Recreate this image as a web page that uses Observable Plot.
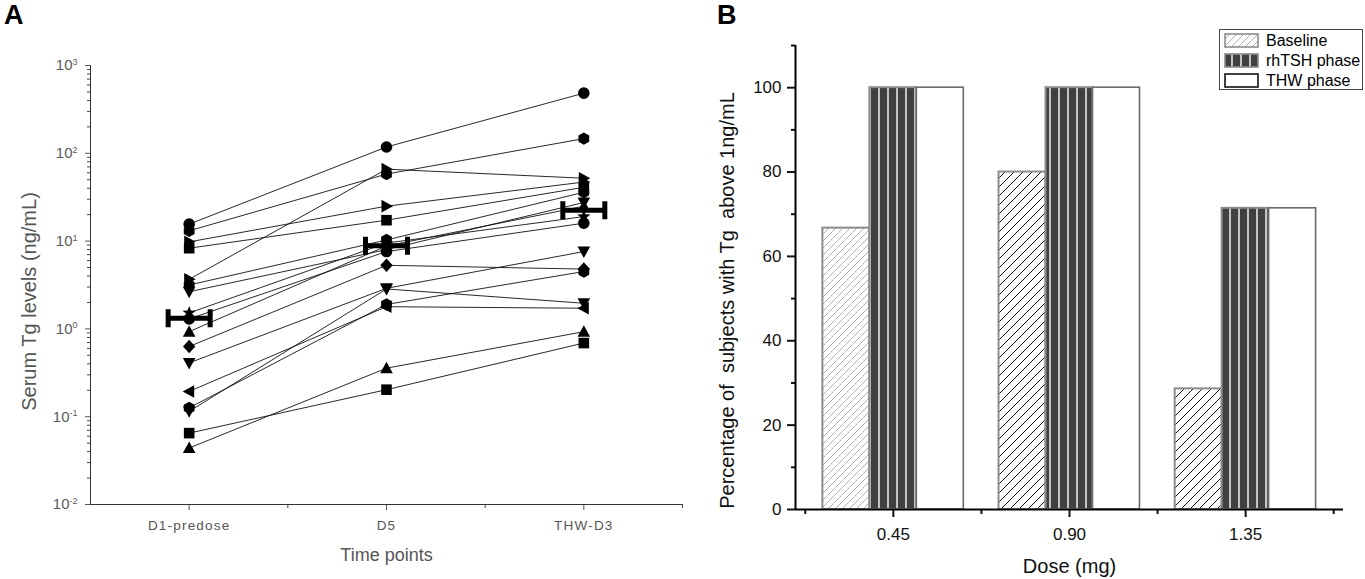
<!DOCTYPE html>
<html>
<head>
<meta charset="utf-8">
<script src="https://cdn.jsdelivr.net/npm/d3@7"></script>
<script src="https://cdn.jsdelivr.net/npm/@observablehq/plot@0.6"></script>
<style>
  body { margin: 0; background: #fff; }
  #wrap { position: relative; width: 1365px; height: 579px; overflow: hidden; background: #fff;
          font-family: "Liberation Sans", Arial, sans-serif; }
  #panelA, #panelB { position: absolute; top: 0; }
  #panelA { left: 0; }
  #panelB { left: 700px; }
  .plabel { position: absolute; top: 0px; font-weight: bold; font-size: 27px; color: #000; line-height: 30px; }
  #legend { position: absolute; left: 1219px; top: 29px; width: 142px; height: 59px; border: 1px solid #444; background: #fff; }
  .lrow { position: absolute; left: 4px; height: 16px; }
  .lrow svg { position: absolute; left: 0; top: 0; }
  .lrow span { position: absolute; left: 42px; top: -2px; font-size: 16px; line-height: 20px; color: #000; white-space: nowrap; }
  svg text { white-space: pre; }
  #panelA g[aria-label="x-axis tick label"] { letter-spacing: 1.2px; }
</style>
</head>
<body>
<div id="wrap">
  <div id="panelA"></div>
  <div id="panelB"></div>
  <div class="plabel" style="left:4px">A</div>
  <div class="plabel" style="left:717px">B</div>
  <div id="legend"></div>
</div>
<script>
// ---------- Panel A data ----------
const timePoints = ["D1-predose", "D5", "THW-D3"];
const tgD1  = [15.6, 13.1, 9.8, 8.3, 3.67, 3.16, 2.65, 1.52, 1.3, 0.93, 0.63, 0.41, 0.194, 0.126, 0.115, 0.065, 0.044];
const tgD5  = [118, 58, 25, 17.3, 66, 10.3, 8.0, 9.5, 7.6, 8.8, 5.3, 2.9, 1.79, 1.9, 2.85, 0.203, 0.357];
const tgTHW = [484, 147, 47, 41, 52, 36, 27.5, 19, 16, 25, 4.8, 7.6, 1.72, 4.5, 1.96, 0.69, 0.93];
const tgMean = [1.32, 8.85, 22.5];
const yTicksA = [0.01, 0.1, 1, 10, 100, 1000];

// marker style per subject (style, not data)
const subjectMarkers = ["circle", "hexagon", "triangleRight", "square", "triangleRight", "hexagon",
  "triangleDown", "star", "circle", "triangleUp", "diamond", "triangleDown", "triangleLeft",
  "hexagon", "triangleDown", "square", "triangleUp"];

// ---------- Panel B data ----------
const doses = [0.45, 0.90, 1.35];
const phases = ["Baseline", "rhTSH phase", "THW phase"];
const pctBaseline = [66.7, 80.0, 28.6];
const pctRhTSH    = [100, 100, 71.4];
const pctTHW      = [100, 100, 71.4];
const yTicksB = [0, 20, 40, 60, 80, 100];

const FONT = '"Liberation Sans", Arial, sans-serif';

// ---------- custom symbols ----------
function poly(points) {
  return { draw(ctx) {
    ctx.moveTo(points[0][0], points[0][1]);
    for (let i = 1; i < points.length; i++) ctx.lineTo(points[i][0], points[i][1]);
    ctx.closePath();
  } };
}
const starPts = d3.range(10).map(i => {
  const r = i % 2 === 0 ? 7 : 3;
  const a = -Math.PI / 2 + i * Math.PI / 5;
  return [r * Math.cos(a), r * Math.sin(a)];
});
const symbols = {
  circle: { draw(ctx) { ctx.moveTo(5.8, 0); ctx.arc(0, 0, 5.8, 0, 2 * Math.PI); } },
  square: poly([[-5.3, -5.3], [5.3, -5.3], [5.3, 5.3], [-5.3, 5.3]]),
  triangleUp: poly([[0, -6.5], [6.3, 5], [-6.3, 5]]),
  triangleDown: poly([[0, 6.5], [6.3, -5], [-6.3, -5]]),
  triangleLeft: poly([[-6.5, 0], [5, -6.3], [5, 6.3]]),
  triangleRight: poly([[6.5, 0], [-5, -6.3], [-5, 6.3]]),
  diamond: poly([[0, -6.8], [6.2, 0], [0, 6.8], [-6.2, 0]]),
  hexagon: poly(d3.range(6).map(i => [6.2 * Math.cos(Math.PI / 6 + i * Math.PI / 3), 6.2 * Math.sin(Math.PI / 6 + i * Math.PI / 3)])),
  star: poly(starPts)
};
const meanSymbol = { draw(ctx) {
  ctx.moveTo(-21, 0); ctx.lineTo(21, 0);
  ctx.moveTo(-21, -9); ctx.lineTo(-21, 9);
  ctx.moveTo(21, -9); ctx.lineTo(21, 9);
} };

// ---------- Panel A ----------
const tgRows = [];
tgD1.forEach((_, i) => {
  [tgD1[i], tgD5[i], tgTHW[i]].forEach((v, t) => {
    tgRows.push({ subject: i, t: t + 1, value: v, marker: subjectMarkers[i] });
  });
});
const meanRows = tgMean.map((v, i) => ({ t: i + 1, value: v }));
const minorA = [];
for (let k = -2; k <= 2; k++) for (let m = 2; m <= 9; m++) minorA.push(m * Math.pow(10, k));

const markerTypes = Array.from(new Set(subjectMarkers));

const chartA = Plot.plot({
  width: 700, height: 579,
  marginLeft: 90, marginRight: 18, marginTop: 65, marginBottom: 75,
  style: { fontFamily: FONT, background: "transparent", overflow: "visible" },
  x: { domain: [0.5, 3.5] },
  y: { type: "log", domain: [0.01, 1000] },
  marks: [
    Plot.axisY({ ticks: yTicksA, tickSize: 5, tickPadding: 8, fontSize: 15, color: "#5a5a5a",
      tickFormat: d => "10^" + Math.round(Math.log10(d)), label: null }),
    Plot.axisY({ ticks: minorA, tickSize: 3, tickFormat: () => "", color: "#444", label: null }),
    Plot.axisX({ ticks: [1, 2, 3], tickSize: 6, tickPadding: 10, fontSize: 13.5, color: "#555",
      tickFormat: d => timePoints[d - 1], label: null }),
    Plot.axisX({ ticks: [1.5, 2.5, 3.5], tickSize: 4, tickFormat: () => "", color: "#444", label: null }),
    Plot.ruleX([0.5], { stroke: "#333" }),
    Plot.ruleY([0.01], { stroke: "#333" }),
    Plot.line(tgRows, { x: "t", y: "value", z: "subject", stroke: "#111", strokeWidth: 0.9 }),
    ...markerTypes.map(name => Plot.dot(tgRows.filter(d => d.marker === name),
      { x: "t", y: "value", symbol: symbols[name], fill: "#000", stroke: "none" })),
    Plot.dot(meanRows, { x: "t", y: "value", symbol: meanSymbol, fill: "none", stroke: "#000", strokeWidth: 5 }),
    Plot.text(["Serum Tg levels (ng/mL)"], { frameAnchor: "left", dx: 29 - 90, dy: 301 - 284.5, rotate: -90,
      fontSize: 20, fill: "#555", textAnchor: "middle", lineAnchor: "middle" }),
    Plot.text(["Time points"], { frameAnchor: "bottom", dy: 555 - 504, fontSize: 18, fill: "#555",
      lineAnchor: "middle" })
  ]
});
document.getElementById("panelA").appendChild(chartA);

// superscript exponents
d3.select(chartA).selectAll('g[aria-label="y-axis tick label"] text').each(function () {
  const s = this.textContent;
  if (!s.includes("^")) return;
  const [b, e] = s.split("^");
  const t = d3.select(this);
  t.text(b);
  t.append("tspan").attr("dy", "-0.6em").attr("font-size", "0.6em").text(e);
});

// ---------- Panel B ----------
const rowsB = doses.map((d, i) => ({ dose: d, baseline: pctBaseline[i], rh: pctRhTSH[i], thw: pctTHW[i] }));
const W = 0.12;

const chartB = Plot.plot({
  width: 665, height: 579,
  marginLeft: 95, marginRight: 22, marginTop: 45, marginBottom: 70,
  style: { fontFamily: FONT, background: "transparent", overflow: "visible" },
  x: { domain: [0.2, 1.6] },
  y: { domain: [0, 110] },
  marks: [
    Plot.rect(rowsB, { filter: d => d.dose === 0.45, x1: d => d.dose - 1.5 * W, x2: d => d.dose - 0.5 * W,
      y1: () => 0, y2: "baseline", fill: "url(#hatchLight)", stroke: "#8c8c8c", strokeWidth: 2 }),
    Plot.rect(rowsB, { filter: d => d.dose !== 0.45, x1: d => d.dose - 1.5 * W, x2: d => d.dose - 0.5 * W,
      y1: () => 0, y2: "baseline", fill: "url(#hatchDark)", stroke: "#8c8c8c", strokeWidth: 2 }),
    Plot.rect(rowsB, { x1: d => d.dose - 0.5 * W, x2: d => d.dose + 0.5 * W,
      y1: () => 0, y2: "rh", fill: "url(#stripes)", stroke: "#8c8c8c", strokeWidth: 2 }),
    Plot.rect(rowsB, { x1: d => d.dose + 0.5 * W, x2: d => d.dose + 1.5 * W,
      y1: () => 0, y2: "thw", fill: "#fff", stroke: "#6a6a6a", strokeWidth: 1.6 }),
    Plot.axisY({ ticks: yTicksB, tickSize: 8, tickPadding: 6, fontSize: 17, color: "#111", strokeWidth: 2, label: null }),
    Plot.axisY({ ticks: [10, 30, 50, 70, 90, 110], tickSize: 4, tickFormat: () => "", color: "#111", strokeWidth: 2, label: null }),
    Plot.axisX({ ticks: doses, tickSize: 8, tickPadding: 10, fontSize: 17, color: "#111", strokeWidth: 2,
      tickFormat: d3.format(".2f"), label: null }),
    Plot.axisX({ ticks: [0.225, 0.675, 1.125, 1.575], tickSize: 5, tickFormat: () => "", color: "#111", strokeWidth: 2, label: null }),
    Plot.ruleX([0.2], { stroke: "#000", strokeWidth: 2 }),
    Plot.ruleY([0], { stroke: "#000", strokeWidth: 2 }),
    Plot.text(["Percentage of  subjects with Tg  above 1ng/mL"], { frameAnchor: "left", dx: -68, dy: 300 - 277,
      rotate: -90, fontSize: 20, fill: "#111", textAnchor: "middle", lineAnchor: "middle" }),
    Plot.text(["Dose (mg)"], { frameAnchor: "bottom", dy: 566 - 509, fontSize: 20, fill: "#111", lineAnchor: "middle" })
  ]
});
document.getElementById("panelB").appendChild(chartB);

// patterns
const defs = d3.select(chartB).insert("defs", ":first-child");
function pattern(id, w, h, build) {
  const p = defs.append("pattern").attr("id", id).attr("patternUnits", "userSpaceOnUse")
    .attr("width", w).attr("height", h);
  build(p);
}
pattern("hatchLight", 7, 7, p => {
  p.append("rect").attr("width", 7).attr("height", 7).attr("fill", "#fff");
  p.append("path").attr("d", "M0,7L7,0M-1,1L1,-1M6,8L8,6").attr("stroke", "#9a9a9a").attr("stroke-width", 0.8);
});
pattern("hatchDark", 9, 9, p => {
  p.append("rect").attr("width", 9).attr("height", 9).attr("fill", "#fff");
  p.append("path").attr("d", "M0,9L9,0M-1,1L1,-1M8,10L10,8").attr("stroke", "#111").attr("stroke-width", 1);
});
pattern("stripes", 9, 10, p => {
  p.append("rect").attr("width", 9).attr("height", 10).attr("fill", "#404040");
  p.append("rect").attr("x", 7).attr("width", 2).attr("height", 10).attr("fill", "#c4c4c4");
});

// ---------- legend ----------
const legendStyles = [
  { fill: "url(#hatchLight)", stroke: "#8c8c8c" },
  { fill: "url(#stripes)", stroke: "#8c8c8c" },
  { fill: "#fff", stroke: "#111" }
];
const legend = d3.select("#legend");
phases.forEach((name, i) => {
  const row = legend.append("div").attr("class", "lrow").style("top", (3 + i * 20) + "px");
  const s = row.append("svg").attr("width", 36).attr("height", 16);
  s.append("rect").attr("x", 1).attr("y", 1).attr("width", 33).attr("height", 13)
    .attr("fill", legendStyles[i].fill).attr("stroke", legendStyles[i].stroke).attr("stroke-width", 1.6);
  row.append("span").text(name);
});
</script>
</body>
</html>
